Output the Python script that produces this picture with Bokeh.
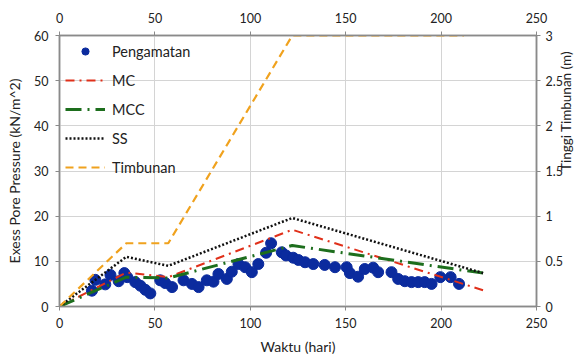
import math
from bokeh.plotting import figure
from bokeh.models import LinearAxis, Range1d, FixedTicker, CustomJSTickFormatter, Legend, LegendItem
from bokeh.embed import file_html
from bokeh.resources import INLINE

# Observed excess pore pressure (Pengamatan)
obs_t = [17, 18.8, 24, 26.7, 31, 34, 35.5, 39.7, 42.4, 45, 47.6, 52.8, 55.4, 59,
         65, 69.4, 72.9, 77.2, 80.7, 83.3, 87.7, 90.3, 93.8, 97.3, 100.8, 104.2,
         108.3, 110.9, 116.5, 118.7, 122.5, 125.2, 128.7, 133, 139, 144.4, 150.5,
         152.2, 156.5, 160, 164.4, 167, 174, 177.5, 181, 184.5, 188, 191.4, 195,
         199.6, 205, 209.4]
obs_u = [3.5, 5.9, 4.9, 7.0, 5.6, 7.4, 6.5, 5.4, 4.6, 3.7, 2.9, 5.8, 5.2, 4.3,
         5.8, 5.0, 4.3, 5.8, 5.5, 7.2, 6.1, 7.7, 9.4, 8.7, 7.6, 9.4,
         11.9, 14.0, 12.0, 11.3, 10.8, 10.3, 9.8, 9.4, 9.2, 8.7, 8.7,
         7.4, 6.6, 8.3, 8.6, 7.6, 7.6, 6.1, 5.6, 5.4, 5.4, 5.4, 5.0,
         6.5, 6.5, 5.0]

# Model predictions
mc_t = [0, 35, 57, 122, 222]
mc_u = [0, 7.5, 6.5, 17.0, 3.6]
mcc_t = [0, 35, 57, 122, 222]
mcc_u = [0, 6.5, 6.3, 13.5, 7.4]
ss_t = [0, 35, 57, 122, 222]
ss_u = [0, 11.0, 9.0, 19.6, 7.4]

# Fill height (Timbunan), metres
tb_t = [0, 35, 57, 122, 212]
tb_h = [0, 0.7, 0.7, 3.0, 3.0]

x_ticks = [0, 50, 100, 150, 200, 250]
y_ticks = [0, 10, 20, 30, 40, 50, 60]
y2_ticks = [0, 0.5, 1, 1.5, 2, 2.5, 3]

FONT = "Lato"
AX = "#8a8a8a"

p = figure(width=584, height=359, output_backend="svg", toolbar_location=None,
           x_range=Range1d(0, 250), y_range=Range1d(0, 60),
           min_border_left=59, min_border_right=47, min_border_top=35, min_border_bottom=53)
p.extra_y_ranges = {"h": Range1d(0, 3)}
p.background_fill_color = "white"
p.border_fill_color = "white"
p.outline_line_color = AX
p.outline_line_width = 1.5

p.xaxis.ticker = FixedTicker(ticks=x_ticks)
p.yaxis.ticker = FixedTicker(ticks=y_ticks)
p.xgrid.ticker = FixedTicker(ticks=x_ticks)
p.ygrid.ticker = FixedTicker(ticks=y_ticks)
p.xgrid.grid_line_color = "#d4d4d4"
p.ygrid.grid_line_color = "#d4d4d4"

p.xaxis.axis_label = "Waktu (hari)"
p.yaxis.axis_label = "Exess Pore Pressure (kN/m^2)"

top = LinearAxis(ticker=FixedTicker(ticks=x_ticks))
p.add_layout(top, "above")
right = LinearAxis(y_range_name="h", ticker=FixedTicker(ticks=y2_ticks),
                   formatter=CustomJSTickFormatter(code="return tick.toString();"),
                   axis_label="Tinggi Timbunan (m)")
p.add_layout(right, "right")

for ax in p.axis:
    ax.axis_line_color = AX
    ax.axis_line_width = 1.5
    ax.major_tick_line_color = AX
    ax.major_tick_in = 0
    ax.major_tick_out = 4
    ax.minor_tick_line_color = None
    ax.major_label_text_font = FONT
    ax.major_label_text_font_size = "12.5px"
    ax.major_label_text_color = "#222222"
    ax.axis_label_text_font = FONT
    ax.axis_label_text_font_size = "14px"
    ax.axis_label_text_font_style = "normal"
    ax.axis_label_text_color = "#222222"
    ax.axis_label_standoff = 8
    ax.major_label_standoff = 6

p.below[0].major_label_standoff = 7
p.below[0].axis_label_standoff = 7
top.major_label_standoff = 9
p.left[0].major_label_standoff = 7
p.left[0].axis_label_standoff = 8
right.major_label_standoff = 5
right.axis_label_standoff = 0
right.axis_label_text_font_size = "13.5px"
right.axis_label_orientation = math.pi / 2

r_obs = p.scatter(obs_t, obs_u, size=11, color="#0b2b9e", line_color="#0b2b9e")
r_mc = p.line(mc_t, mc_u, line_color="#e0301a", line_width=2, line_dash="9 5 2 5")
r_mcc = p.line(mcc_t, mcc_u, line_color="#1d6e1d", line_width=3, line_dash="16 6 2 6")
r_ss = p.line(ss_t, ss_u, line_color="#111111", line_width=2.5, line_dash="2 2")
r_tb = p.line(tb_t, tb_h, y_range_name="h", line_color="#f0a21e", line_width=2.2, line_dash="8 5")

legend = Legend(items=[
    LegendItem(label="Pengamatan", renderers=[r_obs]),
    LegendItem(label="MC", renderers=[r_mc]),
    LegendItem(label="MCC", renderers=[r_mcc]),
    LegendItem(label="SS", renderers=[r_ss]),
    LegendItem(label="Timbunan", renderers=[r_tb]),
], location=(6, 130))
legend.background_fill_alpha = 0
legend.border_line_color = None
legend.margin = 0
legend.padding = 8
legend.glyph_width = 40
legend.glyph_height = 18
legend.spacing = 11
legend.label_standoff = 7
legend.label_height = 18
legend.label_text_font = FONT
legend.label_text_font_size = "14.5px"
legend.label_text_color = "#222222"
p.add_layout(legend)

open("out.html", "w").write(file_html(p, INLINE))
